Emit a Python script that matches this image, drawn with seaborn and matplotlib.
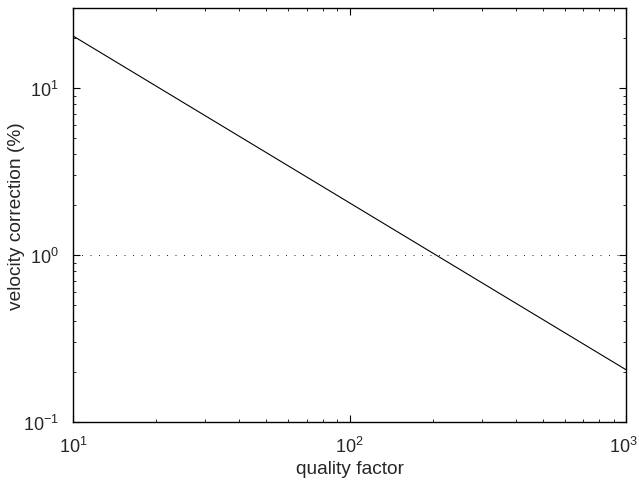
import matplotlib
matplotlib.use("Agg")
import matplotlib.pyplot as plt
import matplotlib.transforms as mtransforms
import seaborn as sns
import pandas as pd

quality_factor = [10, 1000]
velocity_correction = [20.5, 0.205]
reference_level = 1.0

sns.set_theme(style="ticks")
plt.rcParams['font.family'] = ['Liberation Sans', 'DejaVu Sans']
plt.rcParams['mathtext.fontset'] = 'custom'
plt.rcParams['mathtext.rm'] = 'Liberation Sans'
plt.rcParams['mathtext.it'] = 'Liberation Sans'

df = pd.DataFrame({"Q": quality_factor, "v": velocity_correction})

fig = plt.figure(figsize=(6.39, 4.85), dpi=100)
ax = fig.add_axes([0.114, 0.128, 0.866, 0.853])
sns.lineplot(data=df, x="Q", y="v", ax=ax, color="black", linewidth=0.8)
ax.axhline(reference_level, color="black", linewidth=0.6, linestyle=(0, (1.2, 9)))
ax.set_xscale("log")
ax.set_yscale("log")
ax.set_xlim(10, 1000)
ax.set_ylim(0.1, 30)
ax.set_xlabel("quality factor", fontsize=13.8, labelpad=3)
ax.set_ylabel("velocity correction (%)", fontsize=13.8)
ax.yaxis.set_label_coords(-0.087, 0.5)
ax.tick_params(which="both", direction="in", top=True, right=True, labelsize=13, color="black")
ax.tick_params(axis="x", which="major", length=5, width=0.8, pad=10)
ax.tick_params(axis="y", which="major", length=5, width=0.8, pad=10)
ax.tick_params(which="minor", length=2.5, width=0.6)
for s in ax.spines.values():
    s.set_linewidth(1.0)
    s.set_color("black")

fig.canvas.draw()
offset = mtransforms.ScaledTranslation(-3 / 100, 0, fig.dpi_scale_trans)
for tick in ax.xaxis.get_major_ticks():
    if abs(tick.get_loc() - 1000) < 1e-6:
        tick.label1.set_transform(tick.label1.get_transform() + offset)

fig.savefig("out.png", dpi=100)
